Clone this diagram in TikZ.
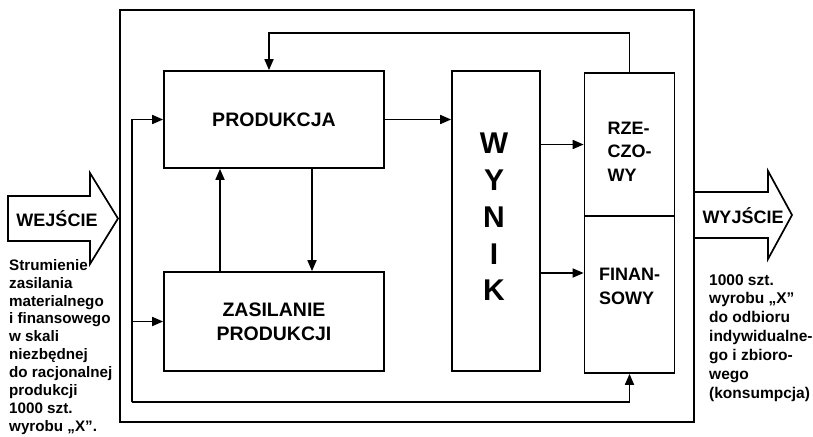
\documentclass[tikz,border=0pt]{standalone}
\usepackage{fontspec}
\setmainfont{Liberation Sans}
\usetikzlibrary{arrows.meta}

\begin{document}
\begin{tikzpicture}[
    x=1pt, y=-1pt,
    % Blocos principais
    bloco/.style={
        draw, line width=1.7pt, fill=white, inner sep=0pt,
        font=\fontsize{19.5}{24}\selectfont\bfseries, align=center
    },
    % Textos dos blocos de resultado
    rotulo/.style={
        inner sep=0pt, align=left,
        font=\fontsize{18}{23.5}\selectfont\bfseries
    },
    % Textos das setas largas
    seta/.style={
        inner sep=0pt, font=\fontsize{18}{22}\selectfont\bfseries
    },
    % Textos laterais
    lateral/.style={
        inner sep=0pt, align=left,
        font=\fontsize{15.2}{17.9}\selectfont\bfseries
    },
    contorno/.style={draw, line width=1.7pt, line join=miter},
    linha/.style={draw, line width=1.7pt, -{Triangle[length=11pt,width=9pt]}}
]
\useasboundingbox (0,0) rectangle (813,436);

% ---- MOLDURA DO SISTEMA ----
\node[bloco, minimum width=574pt, minimum height=412pt] (moldura) at (407,216) {};

% ---- BLOCOS INTERNOS ----
\node[bloco, minimum width=220pt, minimum height=97pt] (prod) at (274,119.5) {PRODUKCJA};
\node[bloco, minimum width=220pt, minimum height=99pt] (zas)  at (274,321.5) {ZASILANIE\\PRODUKCJI};
\node[bloco, minimum width=88pt, minimum height=300pt] (wynik) at (496,221) {};
\node[bloco, draw=none, fill=none,
      font=\fontsize{30}{36.75}\selectfont\bfseries] (t_wynik) at (494,217) {W\\Y\\N\\I\\K};

% ---- WYNIK: RZECZOWY / FINANSOWY ----
\node[bloco, minimum width=90pt, minimum height=143pt] (rzecz) at (629.5,144.5) {};
\node[bloco, minimum width=90pt, minimum height=157pt] (fin)   at (629.5,294.5) {};
\node[rotulo] (t_rzecz) at (629.5,151.5) {RZE-\\CZO-\\WY};
\node[rotulo] (t_fin)   at (629.5,286.5) {FINAN-\\SOWY};

% ---- LIGAÇÕES ----
\coordinate (fb) at (269,33);
\draw[linha] (rzecz.north) |- (fb) -- (fb |- prod.north);

\coordinate (lp) at (132,402);
\draw[linha] (lp) |- (prod.west);
\draw[linha] (lp |- zas.west) -- (zas.west);
\draw[linha] (lp) -| (fin.south);

\draw[linha] ([xshift=-54pt]zas.north)  -- ([xshift=-54pt]prod.south);
\draw[linha] ([xshift=38pt]prod.south)  -- ([xshift=38pt]zas.north);
\draw[linha] (prod.east) -- (prod.east -| wynik.west);
\draw[linha] (wynik.east |- rzecz.west) -- (rzecz.west);
\draw[linha] ([yshift=-52pt]wynik.east) -- ([yshift=-52pt]wynik.east -| fin.west);

% ---- ENTRADA ----
\draw[contorno, fill=white] (8,196) -- (90,196) -- (90,173) -- (118,218.5)
    -- (90,264) -- (90,241) -- (8,241) -- cycle;
\node[seta] (wej) at (57,219) {WEJŚCIE};
\node[lateral, anchor=north west] (wej_txt) at (9,259)
    {Strumienie\\zasilania\\materialnego\\i finansowego\\w skali\\niezbędnej\\do racjonalnej\\produkcji\\1000 szt.\\wyrobu „X”.};

% ---- SAÍDA ----
\draw[contorno] (moldura.east |- 0,192) -- (768,192) -- (768,171) -- (792,215)
    -- (768,259) -- (768,238) -- (moldura.east |- 0,238);
\node[seta] (wyj) at (743,216) {WYJŚCIE};
\node[lateral, anchor=north west, font=\fontsize{15.5}{18.9}\selectfont\bfseries] (wyj_txt) at (709,274)
    {1000 szt.\\wyrobu „X”\\do odbioru\\indywidualne-\\go i zbioro-\\wego\\(konsumpcja)};

\end{tikzpicture}
\end{document}
